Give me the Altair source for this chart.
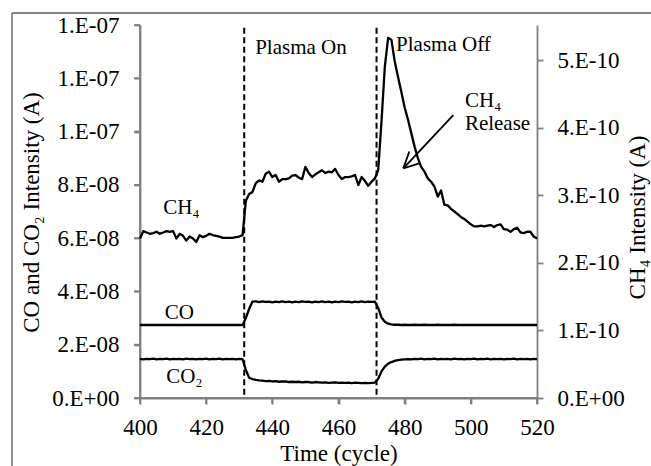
import altair as alt
import pandas as pd

# ---------------- data ----------------
cycles = list(range(400, 521))

# CH4 intensity, units of 1e-10 A (right axis)
ch4 = [2.36, 2.47, 2.45, 2.43, 2.44, 2.46, 2.43, 2.45, 2.47, 2.46, 2.47, 2.36, 2.43, 2.40, 2.33, 2.39,
       2.36, 2.31, 2.41, 2.38, 2.40, 2.43, 2.41, 2.40, 2.39, 2.37, 2.37, 2.37, 2.37, 2.38, 2.39, 2.41,
       2.92, 3.02, 3.05, 3.18, 3.22, 3.20, 3.32, 3.35, 3.27, 3.30, 3.20, 3.24, 3.24, 3.25, 3.29, 3.30,
       3.26, 3.24, 3.42, 3.33, 3.27, 3.31, 3.34, 3.37, 3.33, 3.35, 3.34, 3.39, 3.30, 3.24, 3.27, 3.27,
       3.28, 3.30, 3.15, 3.27, 3.21, 3.14, 3.20, 3.25, 3.37,
       4.10, 4.90, 5.33, 5.30, 4.98, 4.75, 4.53, 4.30, 4.12, 3.92, 3.72, 3.55, 3.42, 3.35, 3.25, 3.20,
       3.13, 2.98, 3.07, 2.86, 2.85, 2.80, 2.76, 2.72, 2.68, 2.65, 2.61, 2.57, 2.54, 2.54, 2.55, 2.54,
       2.55, 2.56, 2.53, 2.56, 2.57, 2.50, 2.49, 2.46, 2.50, 2.52, 2.45, 2.44, 2.46, 2.46, 2.39, 2.36]

# CO intensity, units of 1e-8 A (left axis)
co = [2.74, 2.74, 2.74, 2.74, 2.74, 2.74, 2.74, 2.74, 2.74, 2.74, 2.74, 2.74, 2.74, 2.74, 2.74, 2.74,
      2.74, 2.74, 2.74, 2.74, 2.74, 2.74, 2.74, 2.74, 2.74, 2.74, 2.74, 2.74, 2.74, 2.74, 2.74, 2.74,
      3.00, 3.35, 3.62, 3.63,
      3.60, 3.63, 3.61, 3.62, 3.59, 3.62, 3.60, 3.63, 3.60, 3.62, 3.59, 3.62, 3.60, 3.63, 3.61, 3.62,
      3.59, 3.62, 3.60, 3.63, 3.60, 3.62, 3.59, 3.62, 3.60, 3.63, 3.61, 3.62, 3.59, 3.62, 3.60, 3.63,
      3.60, 3.62, 3.61, 3.62,
      3.38, 3.02, 2.86, 2.79, 2.76, 2.75,
      2.75, 2.74, 2.75, 2.74, 2.74, 2.75, 2.74, 2.74, 2.75, 2.74, 2.74, 2.74, 2.75, 2.74, 2.74, 2.74,
      2.74, 2.75, 2.74, 2.74, 2.74, 2.74, 2.74, 2.74, 2.74, 2.74, 2.74, 2.74, 2.74, 2.74, 2.74, 2.74,
      2.74, 2.74, 2.74, 2.74, 2.74, 2.74, 2.74, 2.74, 2.74, 2.74, 2.74]

# CO2 intensity, units of 1e-8 A (left axis)
co2 = [1.47, 1.45, 1.47, 1.46, 1.48, 1.45, 1.47, 1.46, 1.48, 1.45, 1.47, 1.46, 1.47, 1.45, 1.48, 1.46,
       1.47, 1.45, 1.47, 1.46, 1.48, 1.45, 1.47, 1.46, 1.48, 1.45, 1.47, 1.46, 1.47, 1.45, 1.47, 1.46,
       1.05, 0.76, 0.71, 0.68, 0.66, 0.65,
       0.63, 0.64, 0.62, 0.63, 0.61, 0.62, 0.62, 0.60, 0.61, 0.60, 0.61, 0.59, 0.60, 0.60, 0.58, 0.60,
       0.59, 0.58, 0.59, 0.57, 0.58, 0.59, 0.57, 0.58, 0.57, 0.58, 0.56, 0.58, 0.57, 0.56, 0.57, 0.56,
       0.57, 0.58,
       0.72, 1.00, 1.18, 1.29, 1.35, 1.39, 1.42, 1.44,
       1.45, 1.46, 1.45, 1.47, 1.46, 1.48, 1.45, 1.47, 1.46, 1.48, 1.45, 1.47, 1.46, 1.47, 1.45, 1.48,
       1.46, 1.47, 1.45, 1.47, 1.46, 1.48, 1.45, 1.47, 1.46, 1.48, 1.45, 1.47, 1.46, 1.47, 1.45, 1.47,
       1.46, 1.48, 1.45, 1.47, 1.46, 1.47, 1.45, 1.47, 1.46]

x_ticks = [400, 420, 440, 460, 480, 500, 520]
left_ticks = [0, 2e-8, 4e-8, 6e-8, 8e-8, 1e-7, 1.2e-7, 1.4e-7]
right_ticks = [0, 1e-10, 2e-10, 3e-10, 4e-10, 5e-10]

event_cycles = [431.5, 471.5]
event_top = [1.39e-7, 1.39e-7]

# annotation texts (cycle, left-axis value)
ann_text = ["Plasma On", "Plasma Off", "CH₄", "Release", "CH₄", "CO", "CO₂"]
ann_x = [434.8, 477.4, 498.2, 498.2, 407.0, 407.5, 407.9]
ann_y = [1.314e-7, 1.325e-7, 1.115e-7, 1.027e-7, 7.12e-8, 3.19e-8, 0.80e-8]

# arrow segments (cycle, left-axis value)
arr_x1 = [494.7, 479.6, 479.6]
arr_y1 = [1.062e-7, 8.62e-8, 8.62e-8]
arr_x2 = [479.6, 481.4, 484.4]
arr_y2 = [8.62e-8, 9.25e-8, 8.81e-8]

# chart-area frame (left and top edges), in axis units
frame_x1 = [361.3, 361.3]
frame_y1 = [1.445e-7, 1.445e-7]
frame_x2 = [361.3, 560.0]
frame_y2 = [-0.35e-7, 1.445e-7]

# axis lines and tick marks of the left and bottom axes, in axis units
X_TICK_LEN = 1.81       # cycles (about 6 px)
Y_TICK_LEN = 2.25e-9    # left-axis units (about 6 px)
ax_x1 = [400, 400] + [400 - X_TICK_LEN for _ in left_ticks] + x_ticks
ax_y1 = [0, 0] + left_ticks + [0 for _ in x_ticks]
ax_x2 = [400, 520] + [400 for _ in left_ticks] + x_ticks
ax_y2 = [1.4e-7, 0] + left_ticks + [-Y_TICK_LEN for _ in x_ticks]

# ---------------- tables ----------------
df = pd.DataFrame({
    "cycle": cycles,
    "CH4": [v * 1e-10 for v in ch4],
    "CO": [v * 1e-8 for v in co],
    "CO2": [v * 1e-8 for v in co2],
})
df_ev = pd.DataFrame({"cycle": event_cycles, "top": event_top, "bottom": [0, 0]})
df_ann = pd.DataFrame({"x": ann_x, "y": ann_y, "t": ann_text})
df_arr = pd.DataFrame({"x": arr_x1, "y": arr_y1, "x2": arr_x2, "y2": arr_y2})
df_frame = pd.DataFrame({"x": frame_x1, "y": frame_y1, "x2": frame_x2, "y2": frame_y2})
df_ax = pd.DataFrame({"x": ax_x1, "y": ax_y1, "x2": ax_x2, "y2": ax_y2})

FONT = "Liberation Serif"
AXIS_GRAY = "#808080"

xscale = alt.Scale(domain=[400, 520], nice=False, zero=False)
lscale = alt.Scale(domain=[0, 1.4e-7], nice=False)
rscale = alt.Scale(domain=[0, 5.52e-10], nice=False)

left_label = "replace(replace(format(datum.value, '.0e'), 'e-', '.E-0'), 'e+0', '.E+00')"
right_label = "replace(replace(format(datum.value, '.0e'), 'e-', '.E-'), 'e+0', '.E+00')"

common = dict(grid=False, domainColor=AXIS_GRAY, tickColor=AXIS_GRAY,
              domainWidth=1.8, tickWidth=1.8, tickSize=6, labelFlush=False)

x_axis = alt.Axis(values=x_ticks, title="Time (cycle)", format="d",
                  labelPadding=12, titleY=62, titleBaseline="alphabetic", **common)
left_axis = alt.Axis(values=left_ticks, title="CO and CO₂ Intensity (A)",
                     labelExpr=left_label, labelPadding=15, titleAngle=270,
                     titleX=-109, titleY=187, titleBaseline="middle", titleAlign="center", **common)
right_axis = alt.Axis(values=right_ticks, title="CH₄ Intensity (A)", orient="right",
                      labelExpr=right_label, labelPadding=14, titleAngle=270,
                      titleX=100.5, titleY=192, titleBaseline="middle", titleAlign="center", **common)

axis_lines = alt.Chart(df_ax).mark_rule(color=AXIS_GRAY, strokeWidth=1.8).encode(
    x=alt.X("x:Q", scale=xscale, axis=x_axis),
    y=alt.Y("y:Q", scale=lscale, axis=left_axis),
    x2="x2:Q",
    y2="y2:Q",
)

frame = alt.Chart(df_frame).mark_rule(color="#858585", strokeWidth=1.8).encode(
    x=alt.X("x:Q", scale=xscale, axis=x_axis),
    y=alt.Y("y:Q", scale=lscale, axis=left_axis),
    x2="x2:Q",
    y2="y2:Q",
)

lines_lr = alt.Chart(df).transform_fold(["CO", "CO2"], as_=["series", "value"]).mark_line(
    color="black", strokeWidth=2.3, strokeJoin="round"
).encode(
    x=alt.X("cycle:Q", scale=xscale, axis=x_axis),
    y=alt.Y("value:Q", scale=lscale, axis=left_axis),
    detail="series:N",
)

ev = alt.Chart(df_ev).mark_rule(color="black", strokeWidth=2, strokeDash=[6, 3.5]).encode(
    x=alt.X("cycle:Q", scale=xscale, axis=x_axis),
    y=alt.Y("top:Q", scale=lscale, axis=left_axis),
    y2="bottom:Q",
)

ann = alt.Chart(df_ann).mark_text(
    font=FONT, fontSize=21, align="left", baseline="middle", color="black"
).encode(
    x=alt.X("x:Q", scale=xscale, axis=x_axis),
    y=alt.Y("y:Q", scale=lscale, axis=left_axis),
    text="t:N",
)

arrow = alt.Chart(df_arr).mark_rule(color="black", strokeWidth=1.8).encode(
    x=alt.X("x:Q", scale=xscale, axis=x_axis),
    y=alt.Y("y:Q", scale=lscale, axis=left_axis),
    x2="x2:Q",
    y2="y2:Q",
)

left_layer = alt.layer(frame, axis_lines, lines_lr, ev, ann, arrow)

ch4_line = alt.Chart(df).mark_line(color="black", strokeWidth=2.3, strokeJoin="round").encode(
    x=alt.X("cycle:Q", scale=xscale, axis=x_axis),
    y=alt.Y("CH4:Q", scale=rscale, axis=right_axis),
)

chart = alt.layer(left_layer, ch4_line).resolve_scale(y="independent").properties(
    width=397, height=373,
    autosize=alt.AutoSizeParams(type="none"),
    padding={"left": 140, "top": 25, "right": 114, "bottom": 68},
    background="white",
).configure_view(stroke=None).configure_axis(
    labelFont=FONT, labelFontSize=23, labelColor="black",
    titleFont=FONT, titleFontSize=23, titleFontWeight="normal", titleColor="black",
)

chart.save("out.html", embed_options={"renderer": "svg", "actions": False})
